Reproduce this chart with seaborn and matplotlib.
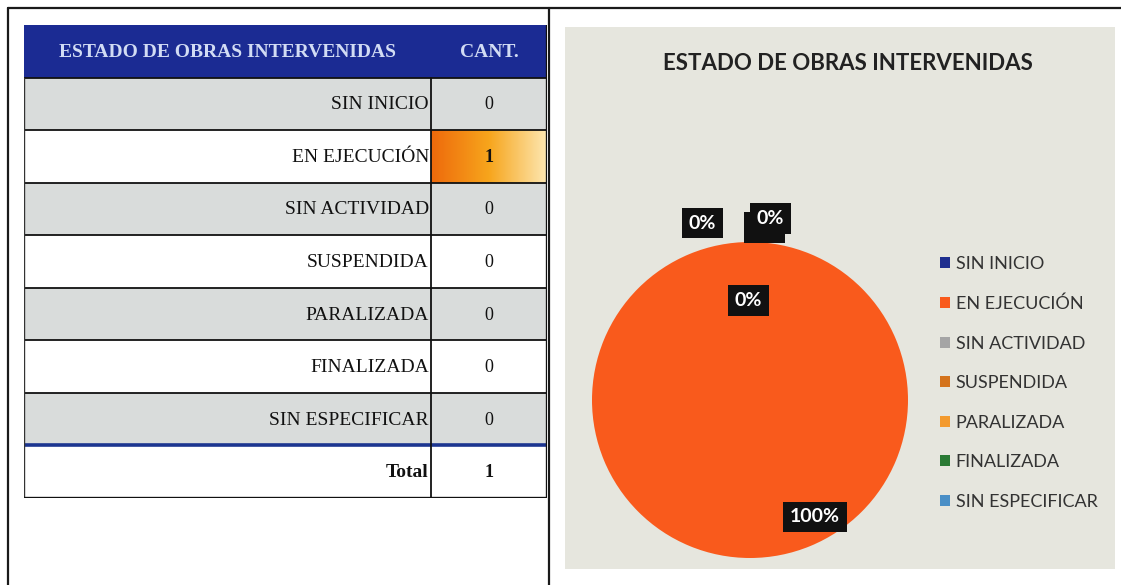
import numpy as np
import matplotlib.pyplot as plt
import seaborn as sns
from matplotlib.patches import Rectangle
from matplotlib.lines import Line2D
from matplotlib.colors import LinearSegmentedColormap

# datos de la tabla / grafico
estados = ["SIN INICIO", "EN EJECUCIÓN", "SIN ACTIVIDAD", "SUSPENDIDA",
           "PARALIZADA", "FINALIZADA", "SIN ESPECIFICAR"]
cantidades = [0, 1, 0, 0, 0, 0, 0]
titulo = "ESTADO DE OBRAS INTERVENIDAS"
col_cant = "CANT."
total_txt = "Total"

colores = sns.color_palette(["#1f2f8f", "#f95a1c", "#a5a5a5", "#d4731c",
                             "#f39a2e", "#2a7a34", "#4a8fc6"])

# posicion de las etiquetas de datos (en radios del pie), como las dejo Excel
pos_etiquetas = [(0.09, 1.09), (0.41, -0.74), (0.13, 1.15), (-0.30, 1.12),
                 (-0.01, 0.63), (-0.01, 0.63), (-0.30, 1.12)]

sns.set_theme(style="white")
plt.rcParams["font.family"] = ["Liberation Serif", "DejaVu Serif"]

W, H = 1121, 585
fig = plt.figure(figsize=(W / 100, H / 100), dpi=100)
fig.patch.set_facecolor("white")


def fx(px):
    return px / W


def fy(py):
    return 1 - py / H


def caja(l, t, r, b):
    return [fx(l), fy(b), fx(r) - fx(l), fy(t) - fy(b)]


# marco de la pagina
for xs, ys in [([8, W], [8, 8]), ([8, 8], [8, H]), ([549, 549], [8, H])]:
    fig.add_artist(Line2D([fx(x) for x in xs], [fy(y) for y in ys],
                          color="#1a1a1a", lw=1.6, transform=fig.transFigure))

# ---------------- tabla ----------------
ax_t = fig.add_axes(caja(24, 25, 547, 498))
n = len(estados) + 2
x_div = (431 - 24) / (547 - 24)
gris = "#d9dcdb"

ax_t.add_patch(Rectangle((0, 0), 1, 1, fc="#1b2b93", ec="none"))
ax_t.text(x_div / 2, 0.52, titulo, ha="center", va="center", color="#d2dcf4",
          fontsize=14, fontweight="bold")
ax_t.text((x_div + 1) / 2, 0.52, col_cant, ha="center", va="center",
          color="#d2dcf4", fontsize=14, fontweight="bold")

grad = LinearSegmentedColormap.from_list("barra", ["#ee6a0c", "#f7a51c", "#fde7b0"])
for i, (e, c) in enumerate(zip(estados, cantidades)):
    y = i + 1
    ax_t.add_patch(Rectangle((0, y), 1, 1, fc=gris if i % 2 == 0 else "white", ec="none"))
    if c > 0:
        ax_t.imshow(np.linspace(0, 1, 100)[None, :], cmap=grad, aspect="auto",
                    extent=(x_div, 1, y + 1, y), zorder=1)
    ax_t.text(x_div - 0.004, y + 0.52, e, ha="right", va="center", fontsize=14,
              color="#111111", zorder=3)
    ax_t.text((x_div + 1) / 2, y + 0.52, str(c), ha="center", va="center",
              fontsize=13, color="#111111", fontweight="bold" if c > 0 else "normal",
              zorder=3)

yt = n - 1
ax_t.text(x_div - 0.004, yt + 0.52, total_txt, ha="right", va="center",
          fontsize=14, fontweight="bold", color="#111111")
ax_t.text((x_div + 1) / 2, yt + 0.52, str(sum(cantidades)), ha="center",
          va="center", fontsize=13, fontweight="bold", color="#111111")

for y in range(1, n):
    if y == n - 1:
        ax_t.plot([0, 1], [y, y], color="#1c3590", lw=2.6, zorder=4)
    else:
        ax_t.plot([0, 1], [y, y], color="#111111", lw=1.3, zorder=4)
ax_t.plot([x_div, x_div], [1, n], color="#111111", lw=1.3, zorder=4)
ax_t.plot([0, 0], [1, n], color="#333333", lw=1.0, zorder=4)
ax_t.plot([1, 1], [0, n], color="#111111", lw=2.4, zorder=4)
ax_t.plot([0, 1], [n, n], color="#111111", lw=2.4, zorder=4)

ax_t.set_xlim(0, 1)
ax_t.set_ylim(n, 0)
ax_t.axis("off")

# ---------------- grafico ----------------
fig.add_artist(Rectangle((fx(565), fy(569)), fx(1115) - fx(565), fy(27) - fy(569),
                         transform=fig.transFigure, fc="#e6e6de", ec="none", zorder=0))
fig.text(fx(848), fy(63), titulo, ha="center", va="center", family=["Lato"],
         fontsize=16, fontweight="bold", color="#222222")

ax_p = fig.add_axes(caja(592, 242, 908, 558))
wedges, _, autotexts = ax_p.pie(cantidades, colors=colores, startangle=90,
                                counterclock=False, autopct=lambda p: f"{p:.0f}%",
                                wedgeprops=dict(linewidth=0))
for t, (px, py) in zip(autotexts, pos_etiquetas):
    t.set_position((px, py))
    t.set_family(["Lato"])
    t.set_fontsize(14)
    t.set_fontweight("bold")
    t.set_color("white")
    t.set_bbox(dict(boxstyle="square,pad=0.35", fc="#111111", ec="none"))
ax_p.set_xlim(-1, 1)
ax_p.set_ylim(-1, 1)
ax_p.set_aspect("equal")
ax_p.axis("off")

fig.legend(wedges, estados, loc="upper left", bbox_to_anchor=(fx(924), fy(240)),
           frameon=False, handlelength=0.55, handleheight=0.55, handletextpad=0.3,
           labelspacing=1.3, prop=dict(family="Lato", size=13),
           labelcolor="#333333")

fig.savefig("out.png", dpi=100)
